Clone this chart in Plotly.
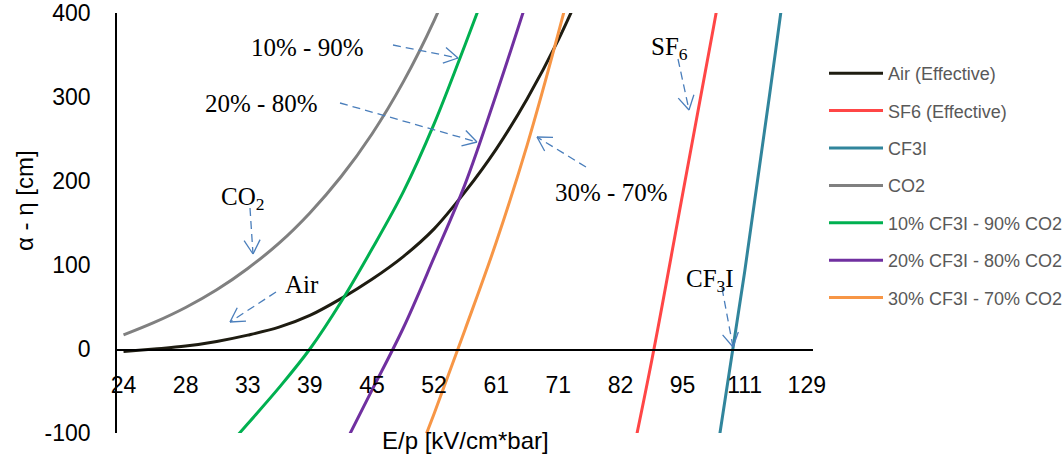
import numpy as np
import plotly.graph_objects as go

# ---------------- data ----------------
TICK_LABELS = [24, 28, 33, 39, 45, 52, 61, 71, 82, 95, 111, 129]
Y_TICKS = [-100, 0, 100, 200, 300, 400]

air_ep = [24, 25.9, 28, 30.4, 33, 35.9, 39, 41.9, 45, 48.4, 52, 56.3, 61, 65.8, 71, 76.3]
air_val = [-3, 0, 3.5, 9, 16.5, 26, 40, 60, 83, 110, 143, 187, 238, 298, 368, 450]

sf6_ep = [82, 88.3, 95, 102.7, 111]
sf6_val = [-195, -14, 184, 384, 586]

cf3i_ep = [102.7, 111, 119.7, 129]
cf3i_val = [-149, 92, 357, 629]

co2_ep = [24, 25.9, 28, 30.4, 33, 35.9, 39, 41.9, 45, 48.4, 52, 56.3]
co2_val = [16.7, 31.6, 49.4, 70.5, 95.9, 126, 162, 205, 256, 318, 391, 478]

mix10_ep = [30.4, 33, 35.9, 39, 41.9, 45, 48.4, 52, 56.3, 61]
mix10_val = [-131, -89, -46, 0, 56, 119, 187, 268, 362, 460]

mix20_ep = [41.9, 45, 48.4, 52, 56.3, 61, 65.8, 71]
mix20_val = [-122, -49, 25, 109, 196, 303, 416, 535]

mix30_ep = [48.4, 52, 56.3, 61, 65.8, 71, 76.3]
mix30_val = [-173, -77, 23, 127, 243, 376, 520]

series = [
    ("Air (Effective)", air_ep, air_val, "#1e1c11"),
    ("SF6 (Effective)", sf6_ep, sf6_val, "#ff4646"),
    ("CF3I", cf3i_ep, cf3i_val, "#31859c"),
    ("CO2", co2_ep, co2_val, "#808080"),
    ("10% CF3I - 90% CO2", mix10_ep, mix10_val, "#00b050"),
    ("20% CF3I - 80% CO2", mix20_ep, mix20_val, "#7030a0"),
    ("30% CF3I - 70% CO2", mix30_ep, mix30_val, "#f79646"),
]

# category-style axis: E/p values are placed at their category position
tick_pos = np.arange(len(TICK_LABELS))


def cat_pos(ep):
    return np.interp(np.log(np.asarray(ep, float)), np.log(TICK_LABELS), tick_pos)


fig = go.Figure()
for i, (name, ep, val, col) in enumerate(series):
    fig.add_trace(go.Scatter(
        x=cat_pos(ep), y=val, mode="lines", name=name,
        line=dict(color=col, width=3, shape="spline", smoothing=1.0),
        legendgroup=f"g{i}", hoverinfo="skip",
    ))

# ---------------- layout ----------------
W, H = 1064, 456
L, R, T, B = 117, 251, 13, 23
PW, PH = W - L - R, H - T - B


def xp(px):
    return (px - L) / PW


def yp(py):
    return (H - B - py) / PH


SERIF = "Liberation Serif"
SANS = "Liberation Sans"

fig.update_layout(
    width=W, height=H,
    margin=dict(l=L, r=R, t=T, b=B, pad=0, autoexpand=False),
    paper_bgcolor="white", plot_bgcolor="white",
    showlegend=True,
    legend=dict(
        x=xp(824), y=yp(55), xanchor="left", yanchor="top",
        font=dict(family=SANS, size=18, color="#595959"),
        itemwidth=54, tracegroupgap=11,
        bgcolor="rgba(0,0,0,0)",
    ),
    xaxis=dict(
        range=[-0.105, 11.1], tickmode="array", tickvals=tick_pos,
        ticktext=[str(t) for t in TICK_LABELS],
        showgrid=False, zeroline=False, showline=True, linecolor="black",
        linewidth=1.6, ticks="", anchor="free", position=yp(349.5),
        tickfont=dict(family=SANS, size=23, color="black"),
        ticklabelstandoff=15, automargin=False,
    ),
    yaxis=dict(
        range=[-100, 400], tickmode="array", tickvals=Y_TICKS,
        ticktext=[str(v) for v in Y_TICKS],
        showgrid=False, zeroline=False, showline=True, linecolor="black",
        linewidth=1.6, ticks="",
        tickfont=dict(family=SANS, size=23, color="black"),
        ticklabelstandoff=20, automargin=False,
    ),
)

annotations = [
    dict(text="E/p [kV/cm*bar]", x=xp(465), y=yp(440), font=dict(family=SANS, size=24, color="black")),
    dict(text="α - η [cm]", x=xp(25), y=yp(201), textangle=-90, font=dict(family=SANS, size=24, color="black")),
    dict(text="10% - 90%", x=xp(307), y=yp(47), font=dict(family=SERIF, size=25, color="black")),
    dict(text="20% - 80%", x=xp(261), y=yp(103), font=dict(family=SERIF, size=25, color="black")),
    dict(text="30% - 70%", x=xp(611), y=yp(192), font=dict(family=SERIF, size=25, color="black")),
    dict(text="CO<sub>2</sub>", x=xp(242), y=yp(198), font=dict(family=SERIF, size=25, color="black")),
    dict(text="Air", x=xp(302), y=yp(285), font=dict(family=SERIF, size=25, color="black")),
    dict(text="SF<sub>6</sub>", x=xp(669), y=yp(48), font=dict(family=SERIF, size=25, color="black")),
    dict(text="CF<sub>3</sub>I", x=xp(710), y=yp(280), font=dict(family=SERIF, size=25, color="black")),
]
for a in annotations:
    a.update(xref="paper", yref="paper", showarrow=False, xanchor="center", yanchor="middle")
fig.update_layout(annotations=annotations)

# dashed pointer arrows (pixel start -> pixel tip)
arrows = [
    (393, 45, 458, 58),
    (340, 103, 477, 142),
    (586, 167, 537, 137),
    (250, 208, 253, 254),
    (276, 292, 230, 322),
    (678, 59, 689, 110),
    (722, 288, 733, 347),
]
ARROW_COL = "#4a7ebb"
shapes = []
for x0, y0, x1, y1 in arrows:
    shapes.append(dict(type="line", xref="paper", yref="paper",
                       x0=xp(x0), y0=yp(y0), x1=xp(x1), y1=yp(y1),
                       line=dict(color=ARROW_COL, width=1.3, dash="8px,5px")))
    d = np.array([x1 - x0, y1 - y0], float)
    d /= np.linalg.norm(d)
    for ang in (np.radians(30), -np.radians(30)):
        rot = np.array([[np.cos(ang), -np.sin(ang)], [np.sin(ang), np.cos(ang)]])
        leg = np.array([x1, y1]) - 16 * rot.dot(d)
        shapes.append(dict(type="line", xref="paper", yref="paper",
                           x0=xp(x1), y0=yp(y1), x1=xp(leg[0]), y1=yp(leg[1]),
                           line=dict(color=ARROW_COL, width=1.3)))
fig.update_layout(shapes=shapes)

fig.write_html(
    "out.html",
    config={"displayModeBar": False},
    post_script="document.body.style.margin='0';document.body.style.overflow='hidden';",
)
